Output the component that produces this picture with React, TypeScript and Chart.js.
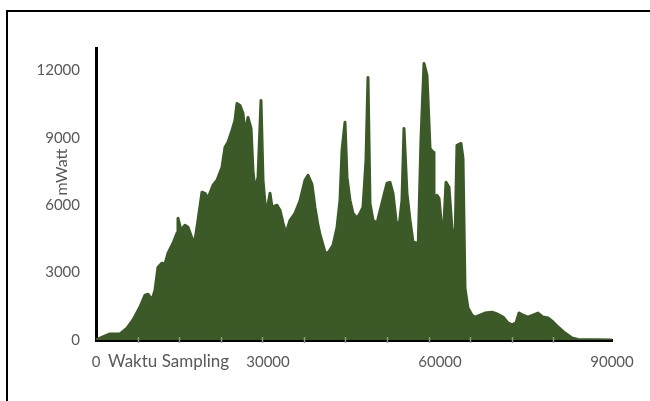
import React, { useEffect, useRef } from 'react';
import { Chart, registerables } from 'chart.js';

Chart.register(...registerables);

const sampleTime = [
  0, 2440, 4190, 5410, 6450, 7670, 8550, 9070, 9770, 10290, 10810, 11510, 12030, 12560,
  13430, 14130, 14300, 14830, 15520, 16050, 16740, 17270, 17790, 18490, 19010, 19530,
  20410, 21110, 21980, 22500, 23020, 23720, 24240, 24590, 25120, 25640, 25990, 26510,
  27040, 27380, 27730, 28260, 28780, 29130, 29480, 29830, 30350, 30700, 31570, 32090,
  32620, 33140, 33840, 34710, 35580, 36450, 36980, 37670, 38200, 38720, 39070, 39940,
  40470, 41340, 42040, 42560, 42910, 43430, 43780, 44300, 44830, 45520, 46050, 46570,
  47090, 47440, 47790, 48310, 49010, 49880, 50760, 51280, 51800, 52330, 52850, 53370,
  53720, 54240, 54770, 55290, 55990, 56160, 56690, 57210, 57730, 58260, 58780, 58950,
  59470, 59830, 60520, 61050, 61570, 62090, 62620, 62960, 63660, 64010, 64360, 64880,
  65580, 66110, 66980, 67850, 69070, 69940, 70990, 71860, 72560, 73260, 73780, 74480,
  75350, 76220, 77090, 77970, 78840, 79710, 80580, 81800, 83020, 84070, 90000,
];
const powerMw = [
  0, 270, 270, 530, 890, 1470, 2000, 2040, 1780, 2220, 3240, 3420, 3380, 3870,
  4310, 4760, 5420, 4890, 5110, 5020, 4530, 4440, 5330, 6580, 6530, 6310,
  6890, 7110, 7690, 8580, 8800, 9330, 9780, 10530, 10440, 10090, 9200, 9910,
  9420, 7550, 6670, 7240, 10660, 7110, 6090, 5780, 6530, 5910, 6000, 5780,
  5200, 4760, 5330, 5640, 6200, 7110, 7330, 6930, 5900, 5100, 4700, 3910,
  3870, 4220, 5020, 6220, 8440, 9690, 7240, 6220, 5640, 5420, 5640, 5910,
  8000, 11690, 6090, 5330, 5200, 6090, 6980, 7020, 6530, 5330, 5020, 6220,
  9420, 6530, 5330, 4360, 4310, 3780, 8980, 12310, 11780, 8530, 8360, 4090,
  6440, 6310, 4360, 7020, 6800, 4980, 4360, 8670, 8750, 8090, 2310, 1420,
  1100, 1020, 1110, 1200, 1240, 1160, 1020, 760, 670, 760, 1200, 1110,
  1020, 1110, 1200, 1020, 980, 800, 580, 310, 90, 20, 0,
];
const yTickValues = [0, 3000, 6000, 9000, 12000];
const xTickValues = [0, 30000, 60000, 90000];
const xAxisTitle = 'Waktu Sampling';
const yAxisTitle = 'mWatt';
const minorTickStep = 7250;
const seriesColor = '#3b5a28';
const textColor = '#595959';

export default function App() {
  const ref = useRef<HTMLCanvasElement>(null);

  useEffect(() => {
    if (!ref.current) return;
    const titlesPlugin = {
      id: 'axisTitles',
      afterDraw(chart: any) {
        const ctx = chart.ctx;
        const xs = chart.scales.x;
        ctx.save();
        ctx.fillStyle = textColor;
        ctx.textBaseline = 'middle';
        ctx.textAlign = 'left';
        ctx.font = '17px Lato';
        ctx.fillText(xAxisTitle, xs.left + 12, 362);
        ctx.translate(62, 172);
        ctx.rotate(-Math.PI / 2);
        ctx.textAlign = 'center';
        ctx.font = '16px Lato';
        ctx.fillText(yAxisTitle, 0, 0);
        ctx.restore();
      },
    };
    const minorTicksPlugin = {
      id: 'minorTicks',
      afterDatasetsDraw(chart: any) {
        const ctx = chart.ctx;
        const xs = chart.scales.x;
        const bottom = chart.chartArea.bottom;
        ctx.save();
        ctx.strokeStyle = '#8d9a80';
        ctx.lineWidth = 1.5;
        for (let v = minorTickStep; v < 82000; v += minorTickStep) {
          const px = Math.round(xs.getPixelForValue(v)) + 0.5;
          ctx.beginPath();
          ctx.moveTo(px, bottom - 3);
          ctx.lineTo(px, bottom + 3);
          ctx.stroke();
        }
        ctx.restore();
      },
    };

    const chart = new Chart(ref.current, {
      type: 'line',
      data: {
        datasets: [
          {
            data: sampleTime.map((t, i) => ({ x: t, y: powerMw[i] })),
            borderColor: seriesColor,
            backgroundColor: seriesColor,
            borderWidth: 3,
            fill: 'origin',
            pointRadius: 0,
            tension: 0,
            borderJoinStyle: 'round',
          },
        ],
      },
      options: {
        responsive: false,
        animation: false,
        devicePixelRatio: 1,
        layout: { padding: { top: 48, right: 38, left: 0, bottom: 0 } },
        plugins: { legend: { display: false }, tooltip: { enabled: false } },
        scales: {
          x: {
            type: 'linear',
            min: 0,
            max: 90000,
            afterFit: (s: any) => { s.height = 61; },
            afterBuildTicks: (s: any) => { s.ticks = xTickValues.map((v) => ({ value: v })); },
            grid: { display: false, drawTicks: false },
            border: { display: true, color: '#000', width: 3 },
            ticks: {
              autoSkip: false,
              maxRotation: 0,
              padding: 13,
              color: textColor,
              font: { family: 'Lato', size: 15 },
              callback: (v: any) => String(v),
            },
          },
          y: {
            type: 'linear',
            min: 0,
            max: 13000,
            afterFit: (s: any) => { s.width = 96; },
            afterBuildTicks: (s: any) => { s.ticks = yTickValues.map((v) => ({ value: v })); },
            grid: { display: false, drawTicks: false },
            border: { display: true, color: '#000', width: 3 },
            ticks: {
              padding: 16,
              color: textColor,
              font: { family: 'Lato', size: 15 },
              callback: (v: any) => String(v),
            },
          },
        },
      },
      plugins: [minorTicksPlugin, titlesPlugin],
    } as any);
    return () => chart.destroy();
  }, []);

  return (
    <div style={{ position: 'fixed', left: 0, top: 0, width: 650, height: 401, background: '#fff', overflow: 'hidden' }}>
      <div
        style={{
          position: 'absolute', left: 6, top: 10, right: 0, bottom: 0,
          borderTop: '2px solid #000', borderLeft: '2px solid #000',
        }}
      />
      <canvas ref={ref} width={650} height={401} style={{ position: 'absolute', left: 0, top: 0, display: 'block' }} />
    </div>
  );
}
